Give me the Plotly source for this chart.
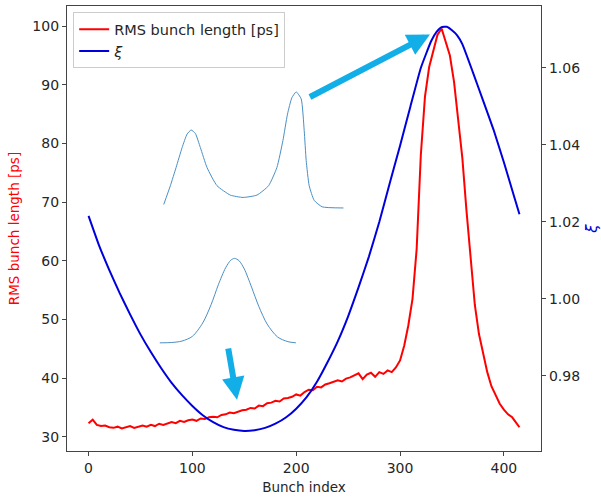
import plotly.graph_objects as go

# ---------------- data ----------------
bunch_index = list(range(0, 413, 4)) + [415]
rms_length = [
    32.3, 32.9, 32.0, 31.8, 31.9, 31.6, 31.5, 31.7, 31.4, 31.6,
    31.8, 31.5, 31.7, 31.9, 31.7, 32.0, 31.8, 32.2, 32.0, 32.3,
    32.5, 32.3, 32.7, 32.5, 32.8, 32.9, 32.7, 33.1, 33.0, 33.3,
    33.4, 33.3, 33.7, 33.8, 34.1, 34.0, 34.3, 34.5, 34.6, 34.9,
    34.8, 35.3, 35.2, 35.7, 35.8, 36.1, 36.0, 36.5, 36.6, 36.8,
    37.2, 37.0, 37.6, 38.0, 37.9, 38.5, 38.4, 38.9, 39.1, 39.3,
    39.6, 39.4, 39.9, 40.1, 40.4, 40.8, 39.8, 40.6, 40.9, 40.2,
    41.0, 40.7, 41.3, 41.0, 41.8, 43.0, 45.5, 49.0, 53.5, 62.0,
    78.0, 88.0, 93.0, 96.0, 98.5, 99.6, 97.5, 95.0, 90.5, 84.5,
    77.5, 68.5, 60.0, 52.5, 47.5, 44.2, 41.0, 38.6, 37.0, 35.6,
    34.6, 33.8, 33.3, 32.4, 31.6,
]

xi_index = [0, 10, 20, 30, 40, 50, 60, 70, 80, 90, 100, 110, 120, 130, 140,
            150, 160, 170, 180, 190, 200, 210, 220, 230, 240, 250, 260, 270,
            280, 290, 300, 310, 320, 330, 335, 340, 345, 350, 355, 360, 370,
            380, 390, 400, 410, 415]
xi_values = [1.0216, 1.0140, 1.0075, 1.0015, 0.9960, 0.9908, 0.9862, 0.9820,
             0.9782, 0.9750, 0.9722, 0.9698, 0.9680, 0.9667, 0.9660, 0.9657,
             0.9659, 0.9665, 0.9676, 0.9692, 0.9715, 0.9745, 0.9785, 0.9835,
             0.9890, 0.9955, 1.0030, 1.0110, 1.0200, 1.0300, 1.0398, 1.0500,
             1.0600, 1.0670, 1.0693, 1.0706, 1.0707, 1.0698, 1.0685, 1.0662,
             1.0590, 1.0515, 1.0440, 1.0355, 1.0265, 1.0220]

# inset sketches (drawn in left-axis data units)
double_x = [72.4, 78.8, 84.3, 90.1, 94.9, 98.8, 102.9, 107.7, 114.1, 123.7,
            136.5, 148.8, 162.2, 173.4, 181.4, 187.2, 191.6, 195.8, 200.0,
            204.8, 207.7, 209.6, 212.5, 217.3, 225.0, 245.5]
double_y = [69.6, 72.8, 75.9, 79.3, 81.6, 82.3, 81.7, 79.3, 75.9, 72.8,
            71.2, 70.8, 71.2, 72.8, 75.9, 80.5, 85.0, 87.8, 88.8,
            87.6, 82.2, 77.1, 72.8, 70.3, 69.2, 69.0]
single_x = [68.6, 80, 90, 100, 110, 118, 125, 132, 137, 140.7, 145, 150, 157,
            164, 172, 182, 192, 199.7]
single_y = [46.0, 46.05, 46.3, 47.1, 49.4, 52.5, 55.9, 58.8, 60.1, 60.4, 60.0,
            58.6, 55.5, 52.2, 49.2, 47.0, 46.2, 46.0]

x_ticks = [0, 100, 200, 300, 400]
left_ticks = [30, 40, 50, 60, 70, 80, 90, 100]
right_ticks = [0.98, 1.00, 1.02, 1.04, 1.06]

# ---------------- figure ----------------
FONT = "DejaVu Sans"
frame = "#444444"
inset_col = "#4a8fc4"
arrow_col = "#12aee8"

fig = go.Figure()

fig.add_trace(go.Scatter(x=double_x, y=double_y, mode="lines",
                         line=dict(color=inset_col, width=1, shape="spline", smoothing=0.5),
                         showlegend=False, hoverinfo="skip"))
fig.add_trace(go.Scatter(x=single_x, y=single_y, mode="lines",
                         line=dict(color=inset_col, width=1, shape="spline", smoothing=0.8),
                         showlegend=False, hoverinfo="skip"))
fig.add_trace(go.Scatter(x=bunch_index, y=rms_length, mode="lines", name="RMS bunch length [ps]",
                         line=dict(color="#ff0000", width=2)))
fig.add_trace(go.Scatter(x=xi_index, y=xi_values, mode="lines", name="<i>ξ</i>", yaxis="y2",
                         line=dict(color="#0000dd", width=2, shape="spline", smoothing=0.4)))

arrows = [
    dict(tail=(211.8, 87.8), tip=(328.8, 98.6)),
    dict(tail=(134.3, 45.3), tip=(143.0, 36.3)),
]
for a in arrows:
    fig.add_annotation(x=a["tip"][0], y=a["tip"][1], ax=a["tail"][0], ay=a["tail"][1],
                       xref="x", yref="y", axref="x", ayref="y", text="", showarrow=True,
                       arrowhead=2, arrowsize=0.75, arrowwidth=6, arrowcolor=arrow_col)

axis_common = dict(showline=True, linecolor=frame, linewidth=1.3, ticks="outside", ticklen=4,
                   tickcolor=frame, tickwidth=1.2, showgrid=False, zeroline=False, automargin=False,
                   tickfont=dict(family=FONT, size=14, color="#262626"))

fig.update_layout(
    width=601, height=497,
    margin=dict(l=67, r=60, t=6, b=46),
    plot_bgcolor="white", paper_bgcolor="white",
    font=dict(family=FONT, size=14, color="#262626"),
    xaxis=dict(range=[-20.75, 435.75], tickvals=x_ticks, mirror=True,
               title=dict(text="Bunch index", font=dict(family=FONT, size=13.5, color="#262626"), standoff=7),
               **axis_common),
    yaxis=dict(range=[27.55, 103.45], tickvals=left_ticks,
               title=dict(text="RMS bunch length [ps]", font=dict(family=FONT, size=13.5, color="#ff0000"), standoff=9),
               **axis_common),
    yaxis2=dict(range=[0.9605, 1.0761], tickvals=right_ticks, tickformat=".2f", overlaying="y", side="right",
                title=dict(text="<i>ξ</i>", font=dict(family=FONT, size=15, color="#0000dd"), standoff=7),
                **axis_common),
    legend=dict(x=0.013, y=0.986, xanchor="left", yanchor="top", bgcolor="rgba(255,255,255,0.85)",
                bordercolor="#cccccc", borderwidth=1, font=dict(family=FONT, size=14.5, color="#262626"),
                tracegroupgap=0, itemwidth=30),
    showlegend=True,
)

fig.write_html("out.html", config={"displayModeBar": False},
               post_script="document.body.style.margin='0';document.body.style.padding='0';")
